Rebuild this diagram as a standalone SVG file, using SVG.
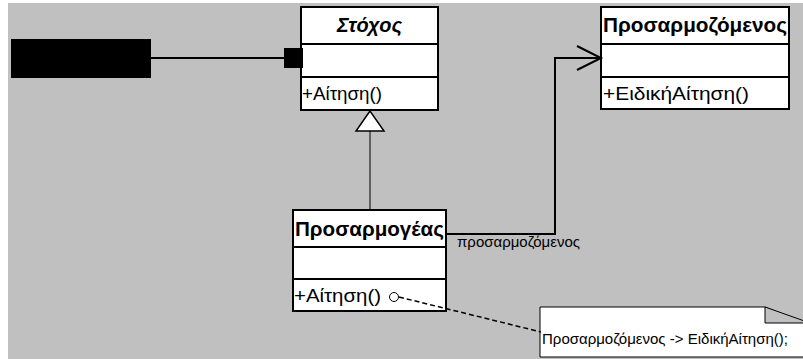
<svg xmlns="http://www.w3.org/2000/svg" width="803" height="359" viewBox="0 0 803 359">
<style>
.box{fill:#fff;stroke:#000;stroke-width:2}
.sep{stroke:#000;stroke-width:2}
.hdr{font-family:"Liberation Sans",Arial,sans-serif;font-size:20px;font-weight:bold}
.op{font-family:"Liberation Sans",Arial,sans-serif;font-size:19px}
.sm{font-family:"Liberation Sans",Arial,sans-serif;font-size:15px}
.ln{fill:none;stroke:#000;stroke-width:2}
</style>
<rect x="0" y="0" width="803" height="359" fill="#fff"/>
<rect x="8" y="3" width="795" height="356" fill="#c0c0c0"/>
<g id="client">
<rect x="11" y="39" width="140" height="39" fill="#000"/>
</g>
<g id="target">
<rect class="box" x="301" y="7" width="137" height="103"/>
<line class="sep" x1="301" y1="44" x2="438" y2="44"/>
<line class="sep" x1="301" y1="77" x2="438" y2="77"/>
<text class="hdr" x="337" y="32" font-style="italic" textLength="65" lengthAdjust="spacingAndGlyphs">Στόχος</text>
<text class="op" x="302" y="100" textLength="80" lengthAdjust="spacingAndGlyphs">+Αίτηση()</text>
</g>
<g id="adaptee">
<rect class="box" x="601" y="7" width="188" height="102"/>
<line class="sep" x1="601" y1="44" x2="789" y2="44"/>
<line class="sep" x1="601" y1="77" x2="789" y2="77"/>
<text class="hdr" x="603" y="32" textLength="184" lengthAdjust="spacingAndGlyphs">Προσαρμοζόμενος</text>
<text class="op" x="603" y="100" textLength="146" lengthAdjust="spacingAndGlyphs">+ΕιδικήΑίτηση()</text>
</g>
<g id="adapter">
<rect class="box" x="293" y="210" width="153" height="101"/>
<line class="sep" x1="293" y1="247" x2="446" y2="247"/>
<line class="sep" x1="293" y1="279" x2="446" y2="279"/>
<text class="hdr" x="295" y="236" font-size="22" textLength="149" lengthAdjust="spacingAndGlyphs">Προσαρμογέας</text>
<text class="op" x="294" y="302" font-size="21" textLength="87" lengthAdjust="spacingAndGlyphs">+Αίτηση()</text>
</g>
<g id="note">
<path d="M540,307 H765 L810,325 V357 H540 Z" fill="#fff" stroke="#000" stroke-width="1"/>
<path d="M765,307 V323 H810 Z" fill="#c0c0c0" stroke="#000" stroke-width="1"/>
<text class="sm" x="542" y="344" textLength="246" lengthAdjust="spacingAndGlyphs">Προσαρμοζόμενος -&gt; ΕιδικήΑίτηση();</text>
</g>
<g id="connectors">
<line class="ln" x1="151" y1="58" x2="285" y2="58"/>
<rect x="284" y="48" width="19" height="20" fill="#000"/>
<line x1="370" y1="131" x2="370" y2="210" stroke="#000" stroke-width="1"/>
<polygon points="370,111 356,131 384,131" fill="#fff" stroke="#000" stroke-width="1.5"/>
<polyline class="ln" points="447,234 555,234 555,58 600,58"/>
<polyline class="ln" points="577,46 601,58 577,70"/>
<text class="sm" x="457" y="247" textLength="123" lengthAdjust="spacingAndGlyphs">προσαρμοζόμενος</text>
<circle cx="394" cy="297" r="4.500" fill="#fff" stroke="#000" stroke-width="1"/>
<line x1="399" y1="297" x2="541" y2="332" stroke="#000" stroke-width="1.500" stroke-dasharray="5,3"/>
</g>
</svg>
